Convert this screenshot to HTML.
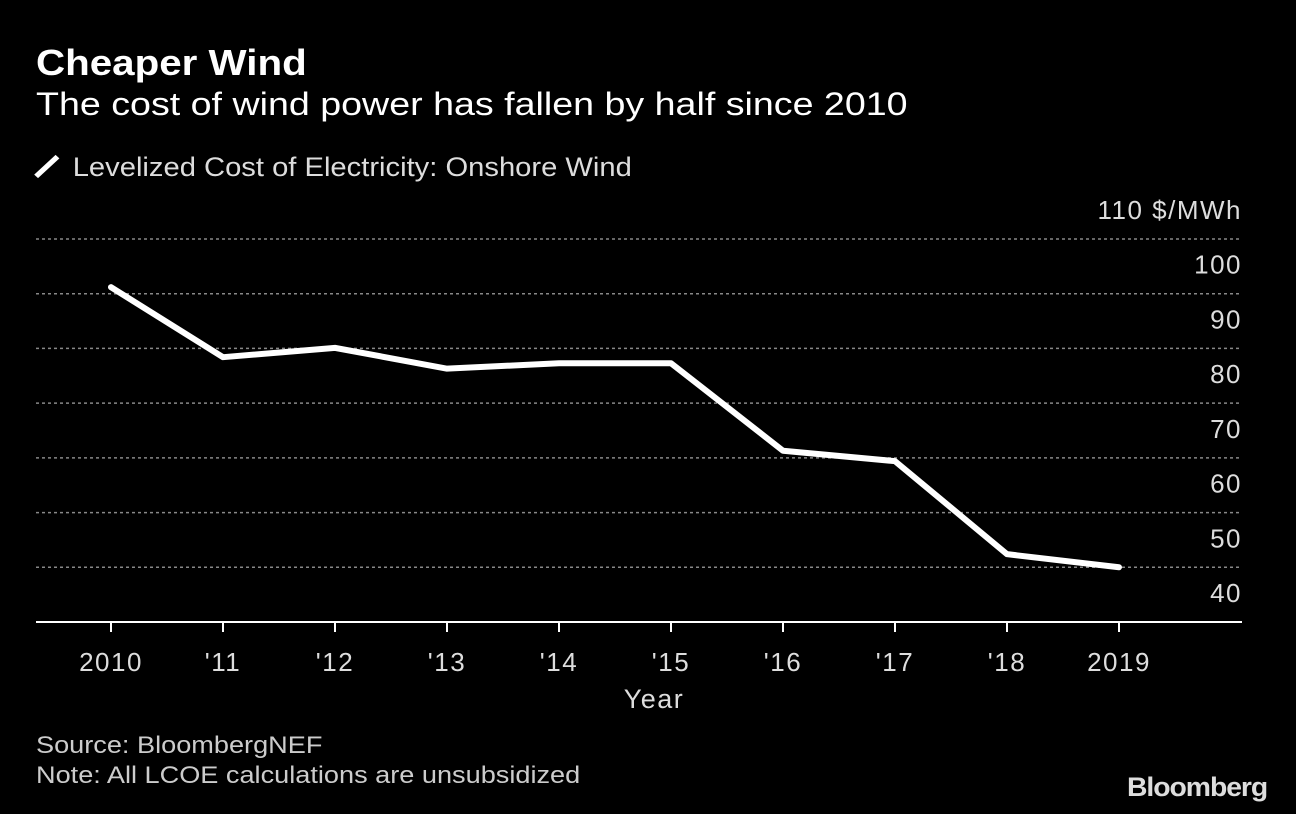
<!DOCTYPE html>
<html><head><meta charset="utf-8"><style>
body{margin:0;background:#000;width:1296px;height:814px;overflow:hidden;font-family:"Liberation Sans",sans-serif;color:#fff}
.t{position:absolute;white-space:nowrap;transform-origin:0 0}
</style></head><body>
<div class="t" style="left:36px;top:42px;font-size:36px;font-weight:bold;transform:scaleX(1.12)">Cheaper Wind</div>
<div class="t" style="left:36px;top:86px;font-size:32px;transform:scaleX(1.175)">The cost of wind power has fallen by half since 2010</div>
<div class="t" style="left:36px;top:152px;font-size:27px;color:#ddd;transform:scaleX(1.08)"><span style="display:inline-block;width:28px;height:5px;background:#fff;transform:rotate(-45deg);vertical-align:middle;margin:0 10px 4px -4px"></span>Levelized Cost of Electricity: Onshore Wind</div>
<svg id="chart" width="1296" height="814" style="position:absolute;left:0;top:0"></svg>
<div class="t" style="left:36px;top:732px;font-size:24px;color:#ccc;transform:scaleX(1.13)">Source: BloombergNEF</div>
<div class="t" style="left:36px;top:762px;font-size:24px;color:#ccc;transform:scaleX(1.13)">Note: All LCOE calculations are unsubsidized</div>
<div class="t" style="left:1127px;top:772px;font-size:27px;font-weight:bold;color:#ddd;letter-spacing:-1px;transform:scaleX(1.05)">Bloomberg</div>
<script>
const categories=["2010","'11","'12","'13","'14","'15","'16","'17","'18","2019"];
const values=[101.2,88.4,90.1,86.3,87.3,87.3,71.3,69.4,52.4,50.0];
const yTicks=[40,50,60,70,80,90,100,110];
const svg=document.getElementById('chart');
const NS='http://www.w3.org/2000/svg';
const y=v=>622-(v-40)*(383/70);
const x=i=>111+i*112;
function mk(t,a){const e=document.createElementNS(NS,t);for(const k in a)e.setAttribute(k,a[k]);svg.appendChild(e);return e;}
yTicks.forEach(v=>{
  if(v>40){const l=mk('line',{x1:36,x2:1242,y1:y(v),y2:y(v),stroke:'#888','stroke-width':1.5,'stroke-dasharray':'3,3'});
  
  }
  const t=mk('text',{x:1242,y:y(v)-20,'text-anchor':'end','font-size':26,fill:'#ddd','font-family':'Liberation Sans, sans-serif','letter-spacing':1.5});
  t.textContent=v===110?'110 $/MWh':v;
  
  
});
const ax=mk('line',{x1:36,x2:1242,y1:622,y2:622,stroke:'#fff','stroke-width':2});


categories.forEach((c,i)=>{
  const tk=mk('line',{x1:x(i),x2:x(i),y1:622,y2:632,stroke:'#fff','stroke-width':2});
  
  
  const t=mk('text',{x:x(i),y:671,'text-anchor':'middle','font-size':26,fill:'#ddd','font-family':'Liberation Sans, sans-serif','letter-spacing':1.5});
  t.textContent=c;
  
  
});
const xt=mk('text',{x:654,y:708,'text-anchor':'middle','font-size':27,fill:'#ddd','font-family':'Liberation Sans, sans-serif','letter-spacing':1.5});
xt.textContent='Year';


const p=mk('polyline',{points:values.map((v,i)=>x(i)+','+y(v)).join(' '),fill:'none',stroke:'#fff','stroke-width':6,'stroke-linejoin':'round','stroke-linecap':'round'});


</script>
</body></html>
